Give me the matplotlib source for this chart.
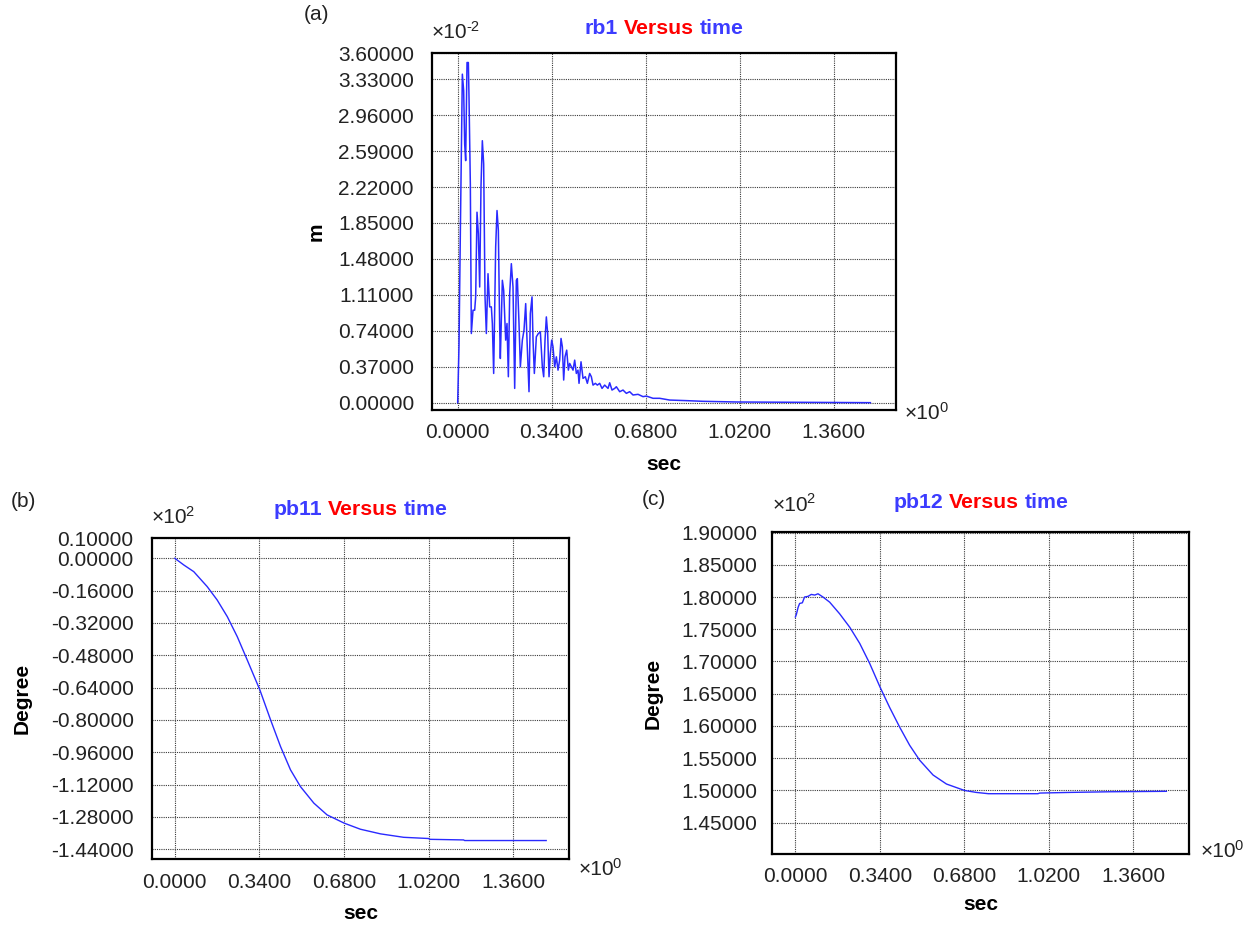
import matplotlib
matplotlib.use('Agg')
import matplotlib.pyplot as plt
from matplotlib.offsetbox import TextArea, HPacker, AnnotationBbox

plt.rcParams['font.family'] = ['Liberation Sans', 'DejaVu Sans']

BLUE = '#3c3cff'
RED = '#ff0000'
LINE = '#2a2aff'
INK = '#222222'

# (a) rb1, values in units of 1e-2 m
t_rb1 = [0.000, 0.0048, 0.0096, 0.0169, 0.0217, 0.0253, 0.0289, 0.0338, 0.0386, 0.0410,
         0.0458, 0.0494, 0.0555, 0.0615, 0.0651, 0.0699, 0.0748, 0.0796, 0.0844, 0.0892,
         0.0940, 0.0989, 0.1037, 0.1097, 0.1157, 0.1218, 0.1254, 0.1302, 0.1374, 0.1423,
         0.1471, 0.1519, 0.1543, 0.1616, 0.1664, 0.1736, 0.1784, 0.1833, 0.1881, 0.1941,
         0.2001, 0.2062, 0.2122, 0.2158, 0.2218, 0.2267, 0.2339, 0.2399, 0.2460, 0.2508,
         0.2580, 0.2628, 0.2689, 0.2725, 0.2773, 0.2845, 0.2918, 0.2990, 0.3062, 0.3111,
         0.3159, 0.3207, 0.3255, 0.3304, 0.3352, 0.3400, 0.3448, 0.3508, 0.3569, 0.3629,
         0.3689, 0.3738, 0.3786, 0.3834, 0.3882, 0.3943, 0.4003, 0.4051, 0.4111, 0.4172,
         0.4232, 0.4292, 0.4352, 0.4389, 0.4461, 0.4533, 0.4618, 0.4690, 0.4774, 0.4835,
         0.4895, 0.4980, 0.5052, 0.5136, 0.5221, 0.5317, 0.5438, 0.5498, 0.5582, 0.5679,
         0.5739, 0.5860, 0.5980, 0.6101, 0.6221, 0.6342, 0.6523, 0.6704, 0.6824, 0.7065,
         0.7306, 0.7668, 0.8271, 0.8874, 1.0080, 1.4926]
rb1 = [0, 0.592, 1.739, 3.382, 3.211, 2.663, 2.492, 3.502, 3.502, 3.142,
       2.252, 0.712, 0.952, 0.952, 1.089, 1.961, 1.739, 1.191, 2.235, 2.697,
       2.458, 1.089, 0.712, 1.328, 0.986, 0.986, 0.815, 0.301, 1.602, 1.978,
       1.773, 0.780, 0.455, 1.260, 1.157, 0.644, 0.815, 0.267, 1.123, 1.431,
       1.191, 0.147, 1.260, 1.277, 0.815, 0.370, 0.644, 0.746, 1.020, 0.644,
       0.113, 0.917, 1.089, 0.644, 0.301, 0.678, 0.712, 0.729, 0.370, 0.267,
       0.644, 0.883, 0.712, 0.267, 0.507, 0.644, 0.575, 0.370, 0.472, 0.335,
       0.438, 0.661, 0.575, 0.233, 0.472, 0.541, 0.335, 0.404, 0.370, 0.335,
       0.438, 0.301, 0.335, 0.199, 0.421, 0.250, 0.267, 0.199, 0.301, 0.267,
       0.181, 0.199, 0.181, 0.199, 0.147, 0.181, 0.147, 0.205, 0.130, 0.147,
       0.164, 0.113, 0.130, 0.096, 0.113, 0.079, 0.086, 0.062, 0.068, 0.045,
       0.045, 0.027, 0.021, 0.014, 0.007, 0.0]

# (b) pb11, units of 1e2 degree
t_pb11 = [0.0, 0.036, 0.076, 0.130, 0.170, 0.211, 0.251, 0.291, 0.342, 0.385, 0.425, 0.465,
          0.505, 0.559, 0.612, 0.681, 0.746, 0.827, 0.920, 1.020, 1.025, 1.161, 1.165, 1.493]
pb11 = [0.0, -0.033, -0.066, -0.140, -0.206, -0.289, -0.388, -0.503, -0.652, -0.800, -0.932,
        -1.047, -1.130, -1.212, -1.270, -1.311, -1.341, -1.364, -1.381, -1.387, -1.391,
        -1.394, -1.397, -1.397]

# (c) pb12, units of 1e2 degree
t_pb12 = [0.0, 0.004, 0.011, 0.017, 0.028, 0.037, 0.051, 0.064, 0.078, 0.091, 0.111, 0.138,
          0.178, 0.219, 0.259, 0.299, 0.341, 0.379, 0.420, 0.460, 0.500, 0.554, 0.608, 0.681,
          0.728, 0.777, 0.976, 0.983, 1.104, 1.265, 1.493]
pb12 = [1.769, 1.773, 1.784, 1.790, 1.791, 1.800, 1.801, 1.804, 1.803, 1.805, 1.800, 1.792,
        1.774, 1.753, 1.728, 1.697, 1.660, 1.629, 1.598, 1.570, 1.547, 1.524, 1.510, 1.500,
        1.497, 1.495, 1.495, 1.496, 1.497, 1.498, 1.4987]

xticks = [0.0, 0.34, 0.68, 1.02, 1.36]
yticks_a = [0.0, 0.37, 0.74, 1.11, 1.48, 1.85, 2.22, 2.59, 2.96, 3.33, 3.60]
yticks_b = [0.10, 0.0, -0.16, -0.32, -0.48, -0.64, -0.80, -0.96, -1.12, -1.28, -1.44]
yticks_c = [1.90, 1.85, 1.80, 1.75, 1.70, 1.65, 1.60, 1.55, 1.50, 1.45]


def setup(ax, yticks, ylim, ypad, xpad):
    ax.set_xlim(-0.093, 1.585)
    ax.set_ylim(*ylim)
    ax.set_xticks(xticks)
    ax.set_xticklabels(['%.4f' % v for v in xticks])
    ax.set_yticks(yticks)
    ax.set_yticklabels(['%.5f' % v for v in yticks])
    ax.tick_params(axis='both', length=0, labelsize=15, colors=INK)
    ax.tick_params(axis='y', pad=ypad)
    ax.tick_params(axis='x', pad=xpad)
    ax.grid(True, color='#3a3a3a', linestyle=(0, (1, 1)), linewidth=0.8)
    for s in ax.spines.values():
        s.set_linewidth(1.6)


def title(ax, name, dy):
    props = dict(fontsize=15.3, fontweight='bold')
    parts = [TextArea(name, textprops=dict(color=BLUE, **props)),
             TextArea('Versus', textprops=dict(color=RED, **props)),
             TextArea('time', textprops=dict(color=BLUE, **props))]
    box = HPacker(children=parts, align='baseline', pad=0, sep=4.2)
    ab = AnnotationBbox(box, (0.5, 1), xycoords='axes fraction', xybox=(0, dy),
                        boxcoords='offset points', frameon=False, box_alignment=(0.5, 0.5))
    ax.add_artist(ab)


def multiplier(ax, xy, offset, exp):
    base = ax.annotate('\u00d710', xy=xy, xycoords='axes fraction', xytext=offset,
                       textcoords='offset points', ha='left', va='baseline',
                       fontsize=15, color=INK)
    ax.annotate(exp, xy=(1, 1), xycoords=base, xytext=(-1.2, 2.5),
                textcoords='offset points', ha='left', va='top', fontsize=10.5, color=INK)


def labels(ax, ylab, ylx, xly, yexp, ydy, xdx, xdy):
    ax.set_ylabel(ylab, fontsize=15, fontweight='bold')
    ax.yaxis.set_label_coords(ylx, 0.5)
    ax.yaxis.label.set_va('center')
    ax.set_xlabel('sec', fontsize=15, fontweight='bold')
    ax.xaxis.set_label_coords(0.5, xly)
    ax.xaxis.label.set_va('center')
    multiplier(ax, (0, 1), (0, ydy), yexp)
    multiplier(ax, (1, 0), (xdx, xdy), '0')


fig = plt.figure(figsize=(12.59, 9.25), dpi=100)

ax_a = fig.add_axes([0.3431, 0.5568, 0.3685, 0.3859])
ax_a.plot(t_rb1, rb1, color=LINE, linewidth=1.1)
setup(ax_a, yticks_a, (-0.075, 3.60), 13, 9.5)
title(ax_a, 'rb1', 17.8)
labels(ax_a, 'm', -0.25, -0.154, '-2', 10.6, 6.5, -6.5)

ax_b = fig.add_axes([0.1205, 0.0710, 0.3315, 0.3477])
ax_b.plot(t_pb11, pb11, color=LINE, linewidth=1.0)
setup(ax_b, yticks_b, (-1.49, 0.102), 13, 10)
title(ax_b, 'pb11', 20)
labels(ax_b, 'Degree', -0.311, -0.168, '2', 10.4, 6.5, -11.5)

ax_c = fig.add_axes([0.6134, 0.0764, 0.3312, 0.3484])
ax_c.plot(t_pb12, pb12, color=LINE, linewidth=1.0)
setup(ax_c, yticks_c, (1.401, 1.9007), 11, 9)
title(ax_c, 'pb12', 21)
labels(ax_c, 'Degree', -0.286, -0.157, '2', 15.3, 8, -2.2)

fig.text(0.251, 0.9838, '(a)', fontsize=15, ha='center', va='center', color=INK)
fig.text(0.019, 0.4576, '(b)', fontsize=15, ha='center', va='center', color=INK)
fig.text(0.5195, 0.4595, '(c)', fontsize=15, ha='center', va='center', color=INK)

fig.savefig('out.png', dpi=100)
